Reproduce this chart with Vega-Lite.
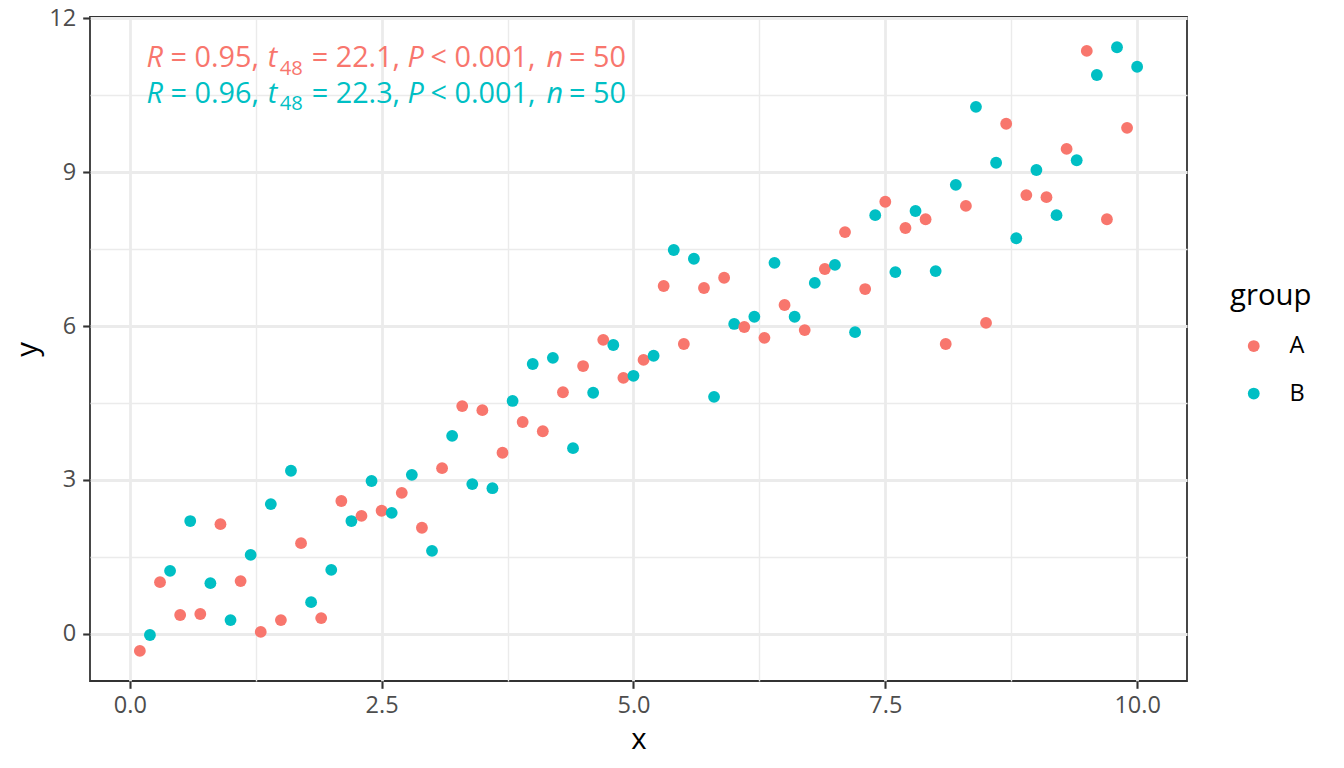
{
  "$schema": "https://vega.github.io/schema/vega-lite/v6.json",
  "width": 1097,
  "height": 664,
  "autosize": "none",
  "padding": {"left": 90, "top": 17, "right": 157, "bottom": 87},
  "background": "white",
  "config": {
    "view": {"stroke": "#333333", "strokeWidth": 1.8},
    "font": "Open Sans",
    "axis": {
      "domain": false,
      "gridColor": "#EBEBEB",
      "tickColor": "#333333",
      "tickSize": 7.3,
      "labelColor": "#4D4D4D",
      "labelFont": "Open Sans",
      "labelFontSize": 23.5,
      "titleFont": "Open Sans",
      "titleFontSize": 29.3,
      "titleFontWeight": "normal",
      "titleColor": "#000000",
      "titleBaseline": "alphabetic"
    }
  },
  "layer": [
    {
      "data": {"values": [
        {"x":0.1,"y":-0.33,"group":"A"},{"x":0.2,"y":-0.02,"group":"B"},
        {"x":0.3,"y":1.01,"group":"A"},{"x":0.4,"y":1.23,"group":"B"},
        {"x":0.5,"y":0.37,"group":"A"},{"x":0.6,"y":2.2,"group":"B"},
        {"x":0.7,"y":0.39,"group":"A"},{"x":0.8,"y":0.99,"group":"B"},
        {"x":0.9,"y":2.14,"group":"A"},{"x":1.0,"y":0.27,"group":"B"},
        {"x":1.1,"y":1.03,"group":"A"},{"x":1.2,"y":1.54,"group":"B"},
        {"x":1.3,"y":0.04,"group":"A"},{"x":1.4,"y":2.53,"group":"B"},
        {"x":1.5,"y":0.27,"group":"A"},{"x":1.6,"y":3.18,"group":"B"},
        {"x":1.7,"y":1.77,"group":"A"},{"x":1.8,"y":0.62,"group":"B"},
        {"x":1.9,"y":0.31,"group":"A"},{"x":2.0,"y":1.25,"group":"B"},
        {"x":2.1,"y":2.59,"group":"A"},{"x":2.2,"y":2.2,"group":"B"},
        {"x":2.3,"y":2.3,"group":"A"},{"x":2.4,"y":2.98,"group":"B"},
        {"x":2.5,"y":2.4,"group":"A"},{"x":2.6,"y":2.36,"group":"B"},
        {"x":2.7,"y":2.75,"group":"A"},{"x":2.8,"y":3.1,"group":"B"},
        {"x":2.9,"y":2.07,"group":"A"},{"x":3.0,"y":1.62,"group":"B"},
        {"x":3.1,"y":3.23,"group":"A"},{"x":3.2,"y":3.86,"group":"B"},
        {"x":3.3,"y":4.44,"group":"A"},{"x":3.4,"y":2.92,"group":"B"},
        {"x":3.5,"y":4.36,"group":"A"},{"x":3.6,"y":2.84,"group":"B"},
        {"x":3.7,"y":3.53,"group":"A"},{"x":3.8,"y":4.54,"group":"B"},
        {"x":3.9,"y":4.13,"group":"A"},{"x":4.0,"y":5.26,"group":"B"},
        {"x":4.1,"y":3.95,"group":"A"},{"x":4.2,"y":5.38,"group":"B"},
        {"x":4.3,"y":4.71,"group":"A"},{"x":4.4,"y":3.62,"group":"B"},
        {"x":4.5,"y":5.22,"group":"A"},{"x":4.6,"y":4.7,"group":"B"},
        {"x":4.7,"y":5.73,"group":"A"},{"x":4.8,"y":5.63,"group":"B"},
        {"x":4.9,"y":4.99,"group":"A"},{"x":5.0,"y":5.03,"group":"B"},
        {"x":5.1,"y":5.34,"group":"A"},{"x":5.2,"y":5.42,"group":"B"},
        {"x":5.3,"y":6.78,"group":"A"},{"x":5.4,"y":7.48,"group":"B"},
        {"x":5.5,"y":5.65,"group":"A"},{"x":5.6,"y":7.31,"group":"B"},
        {"x":5.7,"y":6.74,"group":"A"},{"x":5.8,"y":4.62,"group":"B"},
        {"x":5.9,"y":6.94,"group":"A"},{"x":6.0,"y":6.04,"group":"B"},
        {"x":6.1,"y":5.98,"group":"A"},{"x":6.2,"y":6.18,"group":"B"},
        {"x":6.3,"y":5.77,"group":"A"},{"x":6.4,"y":7.23,"group":"B"},
        {"x":6.5,"y":6.41,"group":"A"},{"x":6.6,"y":6.18,"group":"B"},
        {"x":6.7,"y":5.92,"group":"A"},{"x":6.8,"y":6.84,"group":"B"},
        {"x":6.9,"y":7.11,"group":"A"},{"x":7.0,"y":7.19,"group":"B"},
        {"x":7.1,"y":7.83,"group":"A"},{"x":7.2,"y":5.88,"group":"B"},
        {"x":7.3,"y":6.72,"group":"A"},{"x":7.4,"y":8.16,"group":"B"},
        {"x":7.5,"y":8.42,"group":"A"},{"x":7.6,"y":7.05,"group":"B"},
        {"x":7.7,"y":7.91,"group":"A"},{"x":7.8,"y":8.24,"group":"B"},
        {"x":7.9,"y":8.08,"group":"A"},{"x":8.0,"y":7.07,"group":"B"},
        {"x":8.1,"y":5.65,"group":"A"},{"x":8.2,"y":8.75,"group":"B"},
        {"x":8.3,"y":8.34,"group":"A"},{"x":8.4,"y":10.27,"group":"B"},
        {"x":8.5,"y":6.06,"group":"A"},{"x":8.6,"y":9.18,"group":"B"},
        {"x":8.7,"y":9.94,"group":"A"},{"x":8.8,"y":7.71,"group":"B"},
        {"x":8.9,"y":8.55,"group":"A"},{"x":9.0,"y":9.04,"group":"B"},
        {"x":9.1,"y":8.51,"group":"A"},{"x":9.2,"y":8.16,"group":"B"},
        {"x":9.3,"y":9.45,"group":"A"},{"x":9.4,"y":9.23,"group":"B"},
        {"x":9.5,"y":11.36,"group":"A"},{"x":9.6,"y":10.89,"group":"B"},
        {"x":9.7,"y":8.08,"group":"A"},{"x":9.8,"y":11.43,"group":"B"},
        {"x":9.9,"y":9.86,"group":"A"},{"x":10.0,"y":11.05,"group":"B"}
      ]},
      "mark": {"type": "point", "filled": true, "shape": "circle", "size": 140, "opacity": 1},
      "encoding": {
        "x": {
          "field": "x", "type": "quantitative",
          "scale": {"domain": [-0.395, 10.495], "nice": false, "zero": false},
          "axis": {
            "title": "x",
            "values": [0, 1.25, 2.5, 3.75, 5, 6.25, 7.5, 8.75, 10],
            "labelExpr": "datum.value % 2.5 === 0 ? format(datum.value, '.1f') : ''",
            "gridWidth": {"condition": {"test": "datum.value % 2.5 === 0", "value": 2.8}, "value": 1.4},
            "tickOpacity": {"condition": {"test": "datum.value % 2.5 === 0", "value": 1}, "value": 0},
            "tickWidth": 2.1,
            "labelPadding": 5,
            "titleY": 67
          }
        },
        "y": {
          "field": "y", "type": "quantitative",
          "scale": {"domain": [-0.916, 12.02], "nice": false, "zero": false},
          "axis": {
            "title": "y",
            "values": [0, 1.5, 3, 4.5, 6, 7.5, 9, 10.5, 12],
            "labelExpr": "datum.value % 3 === 0 ? format(datum.value, 'd') : ''",
            "gridWidth": {"condition": {"test": "datum.value % 3 === 0", "value": 2.8}, "value": 1.4},
            "tickOpacity": {"condition": {"test": "datum.value % 3 === 0", "value": 1}, "value": 0},
            "tickWidth": 2.1,
            "labelPadding": 7,
            "titleX": -53.5
          }
        },
        "color": {
          "field": "group", "type": "nominal",
          "scale": {"domain": ["A", "B"], "range": ["#F8766D", "#00BFC4"]},
          "legend": {
            "title": "group",
            "orient": "none",
            "legendX": 1140,
            "legendY": 265,
            "titleFont": "Open Sans",
            "titleFontSize": 29.3,
            "titleFontWeight": "normal",
            "titleColor": "#000000",
            "titlePadding": 23,
            "labelFont": "Open Sans",
            "labelFontSize": 23.5,
            "labelColor": "#000000",
            "labelOffset": 24,
            "symbolOffset": 12,
            "symbolSize": 140,
            "symbolType": "circle",
            "symbolStrokeWidth": 0,
            "rowPadding": 22.5
          }
        }
      }
    },
    {"data": {"values": [{"label": "R"}]}, "mark": {"type": "text", "align": "left", "baseline": "alphabetic", "font": "Open Sans", "fontSize": 28.8, "fontStyle": "italic", "color": "#F8766D"}, "encoding": {"x": {"datum": 0.165, "type": "quantitative"}, "y": {"datum": 11.04, "type": "quantitative"}, "text": {"field": "label"}}},
    {"data": {"values": [{"label": "= 0.95,"}]}, "mark": {"type": "text", "align": "left", "baseline": "alphabetic", "font": "Open Sans", "fontSize": 28.8, "color": "#F8766D"}, "encoding": {"x": {"datum": 0.405, "type": "quantitative"}, "y": {"datum": 11.04, "type": "quantitative"}, "text": {"field": "label"}}},
    {"data": {"values": [{"label": "t"}]}, "mark": {"type": "text", "align": "left", "baseline": "alphabetic", "font": "Open Sans", "fontSize": 28.8, "fontStyle": "italic", "color": "#F8766D"}, "encoding": {"x": {"datum": 1.369, "type": "quantitative"}, "y": {"datum": 11.04, "type": "quantitative"}, "text": {"field": "label"}}},
    {"data": {"values": [{"label": "48"}]}, "mark": {"type": "text", "align": "left", "baseline": "alphabetic", "font": "Open Sans", "fontSize": 20.2, "color": "#F8766D"}, "encoding": {"x": {"datum": 1.488, "type": "quantitative"}, "y": {"datum": 10.897, "type": "quantitative"}, "text": {"field": "label"}}},
    {"data": {"values": [{"label": "= 22.1,"}]}, "mark": {"type": "text", "align": "left", "baseline": "alphabetic", "font": "Open Sans", "fontSize": 28.8, "color": "#F8766D"}, "encoding": {"x": {"datum": 1.806, "type": "quantitative"}, "y": {"datum": 11.04, "type": "quantitative"}, "text": {"field": "label"}}},
    {"data": {"values": [{"label": "P"}]}, "mark": {"type": "text", "align": "left", "baseline": "alphabetic", "font": "Open Sans", "fontSize": 28.8, "fontStyle": "italic", "color": "#F8766D"}, "encoding": {"x": {"datum": 2.758, "type": "quantitative"}, "y": {"datum": 11.04, "type": "quantitative"}, "text": {"field": "label"}}},
    {"data": {"values": [{"label": "< 0.001,"}]}, "mark": {"type": "text", "align": "left", "baseline": "alphabetic", "font": "Open Sans", "fontSize": 28.8, "color": "#F8766D"}, "encoding": {"x": {"datum": 2.986, "type": "quantitative"}, "y": {"datum": 11.04, "type": "quantitative"}, "text": {"field": "label"}}},
    {"data": {"values": [{"label": "n"}]}, "mark": {"type": "text", "align": "left", "baseline": "alphabetic", "font": "Open Sans", "fontSize": 28.8, "fontStyle": "italic", "color": "#F8766D"}, "encoding": {"x": {"datum": 4.137, "type": "quantitative"}, "y": {"datum": 11.04, "type": "quantitative"}, "text": {"field": "label"}}},
    {"data": {"values": [{"label": "= 50"}]}, "mark": {"type": "text", "align": "left", "baseline": "alphabetic", "font": "Open Sans", "fontSize": 28.8, "color": "#F8766D"}, "encoding": {"x": {"datum": 4.36, "type": "quantitative"}, "y": {"datum": 11.04, "type": "quantitative"}, "text": {"field": "label"}}},
    {"data": {"values": [{"label": "R"}]}, "mark": {"type": "text", "align": "left", "baseline": "alphabetic", "font": "Open Sans", "fontSize": 28.8, "fontStyle": "italic", "color": "#00BFC4"}, "encoding": {"x": {"datum": 0.165, "type": "quantitative"}, "y": {"datum": 10.35, "type": "quantitative"}, "text": {"field": "label"}}},
    {"data": {"values": [{"label": "= 0.96,"}]}, "mark": {"type": "text", "align": "left", "baseline": "alphabetic", "font": "Open Sans", "fontSize": 28.8, "color": "#00BFC4"}, "encoding": {"x": {"datum": 0.405, "type": "quantitative"}, "y": {"datum": 10.35, "type": "quantitative"}, "text": {"field": "label"}}},
    {"data": {"values": [{"label": "t"}]}, "mark": {"type": "text", "align": "left", "baseline": "alphabetic", "font": "Open Sans", "fontSize": 28.8, "fontStyle": "italic", "color": "#00BFC4"}, "encoding": {"x": {"datum": 1.369, "type": "quantitative"}, "y": {"datum": 10.35, "type": "quantitative"}, "text": {"field": "label"}}},
    {"data": {"values": [{"label": "48"}]}, "mark": {"type": "text", "align": "left", "baseline": "alphabetic", "font": "Open Sans", "fontSize": 20.2, "color": "#00BFC4"}, "encoding": {"x": {"datum": 1.488, "type": "quantitative"}, "y": {"datum": 10.207, "type": "quantitative"}, "text": {"field": "label"}}},
    {"data": {"values": [{"label": "= 22.3,"}]}, "mark": {"type": "text", "align": "left", "baseline": "alphabetic", "font": "Open Sans", "fontSize": 28.8, "color": "#00BFC4"}, "encoding": {"x": {"datum": 1.806, "type": "quantitative"}, "y": {"datum": 10.35, "type": "quantitative"}, "text": {"field": "label"}}},
    {"data": {"values": [{"label": "P"}]}, "mark": {"type": "text", "align": "left", "baseline": "alphabetic", "font": "Open Sans", "fontSize": 28.8, "fontStyle": "italic", "color": "#00BFC4"}, "encoding": {"x": {"datum": 2.758, "type": "quantitative"}, "y": {"datum": 10.35, "type": "quantitative"}, "text": {"field": "label"}}},
    {"data": {"values": [{"label": "< 0.001,"}]}, "mark": {"type": "text", "align": "left", "baseline": "alphabetic", "font": "Open Sans", "fontSize": 28.8, "color": "#00BFC4"}, "encoding": {"x": {"datum": 2.986, "type": "quantitative"}, "y": {"datum": 10.35, "type": "quantitative"}, "text": {"field": "label"}}},
    {"data": {"values": [{"label": "n"}]}, "mark": {"type": "text", "align": "left", "baseline": "alphabetic", "font": "Open Sans", "fontSize": 28.8, "fontStyle": "italic", "color": "#00BFC4"}, "encoding": {"x": {"datum": 4.137, "type": "quantitative"}, "y": {"datum": 10.35, "type": "quantitative"}, "text": {"field": "label"}}},
    {"data": {"values": [{"label": "= 50"}]}, "mark": {"type": "text", "align": "left", "baseline": "alphabetic", "font": "Open Sans", "fontSize": 28.8, "color": "#00BFC4"}, "encoding": {"x": {"datum": 4.36, "type": "quantitative"}, "y": {"datum": 10.35, "type": "quantitative"}, "text": {"field": "label"}}}
  ]
}
